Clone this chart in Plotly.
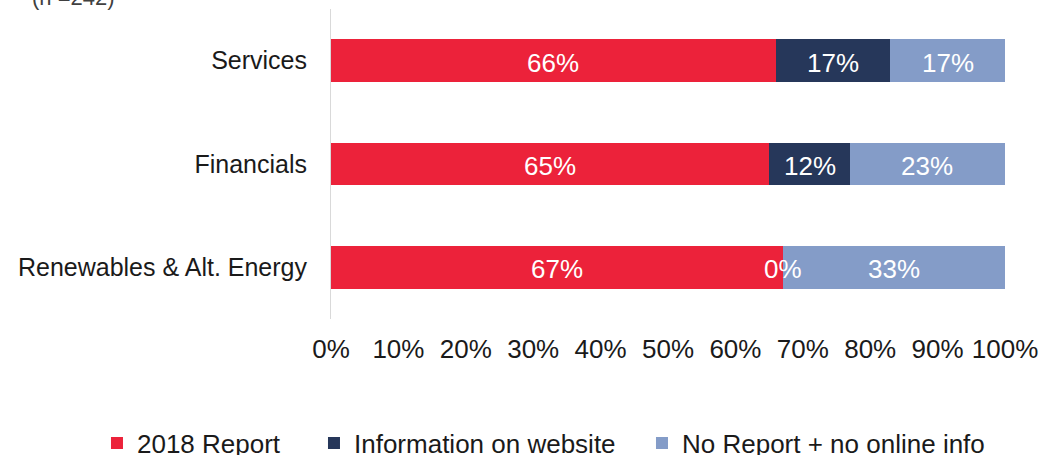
import plotly.graph_objects as go

categories = ["Services", "Financials", "Renewables & Alt. Energy"]
series_names = ["2018 Report", "Information on website", "No Report + no online info"]
report_2018 = [66, 65, 67]
info_website = [17, 12, 0]
no_report = [17, 23, 33]
colors = ["#EC223A", "#26375A", "#849CC8"]
x_ticks = [0, 10, 20, 30, 40, 50, 60, 70, 80, 90, 100]
x_tick_labels = ["0%", "10%", "20%", "30%", "40%", "50%", "60%", "70%", "80%", "90%", "100%"]
note_text = "(n =242)"

FONT = "Liberation Sans, Arial, sans-serif"
series_values = [report_2018, info_website, no_report]
legend_widths = [172, 283, 320]

fig = go.Figure()
for name, vals, col, lw in zip(series_names, series_values, colors, legend_widths):
    fig.add_trace(go.Bar(
        name=name, y=categories, x=vals, orientation="h",
        marker=dict(color=col, line=dict(width=0)),
        textposition="none", hoverinfo="skip", legendwidth=lw,
    ))

# value labels centred on each segment (data coordinates)
annotations = []
for i, cat in enumerate(categories):
    start = 0
    for vals in series_values:
        v = vals[i]
        annotations.append(dict(
            x=start + v / 2, y=cat, xref="x", yref="y", text=f"{v}%",
            showarrow=False, yshift=-2, xanchor="center", yanchor="middle",
            font=dict(family=FONT, size=26, color="white"),
        ))
        start += v

annotations.append(dict(
    text=note_text, xref="paper", yref="paper",
    x=-0.4466, y=1.0387, xanchor="left", yanchor="middle",
    showarrow=False, font=dict(family=FONT, size=22, color="#404040"),
))

fig.update_layout(
    width=1044, height=455,
    barmode="stack", bargap=0.59,
    plot_bgcolor="white", paper_bgcolor="white",
    margin=dict(l=331, r=39, t=9, b=136, autoexpand=False),
    font=dict(family=FONT, color="#1a1a1a"),
    legend=dict(
        orientation="h", xref="paper", yref="paper",
        x=-0.3472, xanchor="left", y=-0.4, yanchor="middle",
        font=dict(family=FONT, size=26, color="#1a1a1a"),
        traceorder="normal", borderwidth=0,
    ),
    annotations=annotations,
)
fig.update_xaxes(
    range=[0, 100], tickvals=x_ticks, ticktext=x_tick_labels,
    showgrid=False, zeroline=False, showline=False, automargin=False,
    ticks="outside", ticklen=7, tickcolor="rgba(0,0,0,0)",
    tickfont=dict(family=FONT, size=26, color="#1a1a1a"),
)
fig.update_yaxes(
    categoryorder="array", categoryarray=categories, autorange="reversed",
    showgrid=False, zeroline=False, showline=True, linecolor="#D9D9D9", linewidth=1,
    automargin=False,
    ticks="outside", ticklen=18, tickcolor="rgba(0,0,0,0)",
    tickfont=dict(family=FONT, size=25, color="#1a1a1a"),
)

fig.write_html("out.html", config={"displayModeBar": False},
               post_script="document.body.style.margin='0';")
